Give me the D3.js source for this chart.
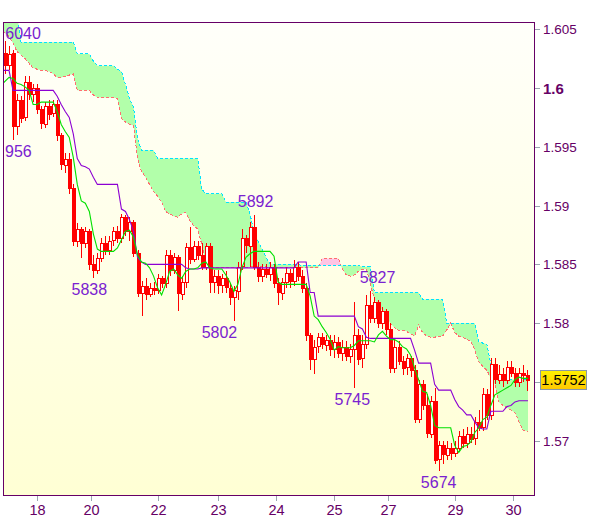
<!DOCTYPE html>
<html><head><meta charset="utf-8">
<script src="https://cdn.jsdelivr.net/npm/d3@7"></script>
<style>body{margin:0;background:#fff;}svg{display:block;font-family:"Liberation Sans",Arial,sans-serif;}</style>
</head><body><svg id="c" width="600" height="519"></svg>
<script>
// prices stored as last four digits: value = 1 + v/10000
const opens = [6030,6020,6030,5968,5990,5975,6005,5995,6000,5982,
5970,5985,5978,5986,5960,5935,5940,5915,5870,5880,
5868,5878,5850,5845,5855,5868,5862,5870,5878,5872,
5890,5878,5886,5860,5826,5832,5825,5830,5828,5838,
5834,5858,5845,5856,5825,5835,5865,5855,5866,5858,
5848,5866,5835,5840,5832,5838,5830,5822,5828,5848,
5872,5866,5882,5848,5840,5846,5842,5848,5834,5826,
5835,5843,5836,5848,5840,5830,5790,5770,5780,5788,
5782,5786,5778,5784,5775,5780,5772,5778,5790,5770,
5782,5815,5804,5818,5800,5810,5795,5762,5780,5768,
5762,5770,5760,5718,5748,5730,5706,5734,5684,5696,
5688,5694,5690,5694,5704,5698,5706,5702,5716,5712,
5740,5722,5765,5752,5757,5752,5763,5758,5750,5758,
5756];
const highs = [6040,6036,6032,5995,5993,6010,6010,6003,6003,5985,
5988,5990,5990,5990,5962,5945,5945,5918,5885,5882,
5882,5880,5858,5860,5872,5874,5874,5882,5883,5893,
5892,5890,5888,5862,5836,5838,5834,5835,5842,5840,
5862,5862,5860,5858,5840,5868,5882,5870,5870,5868,
5868,5868,5845,5845,5842,5844,5834,5832,5852,5880,
5875,5886,5892,5852,5850,5850,5852,5850,5838,5838,
5848,5846,5854,5852,5845,5834,5792,5786,5792,5792,
5790,5790,5790,5788,5786,5785,5782,5818,5795,5790,
5824,5827,5822,5820,5814,5812,5800,5786,5785,5772,
5774,5772,5764,5752,5752,5740,5738,5745,5700,5700,
5700,5698,5700,5708,5710,5712,5712,5720,5726,5745,
5744,5770,5770,5764,5762,5768,5768,5762,5762,5764,
5760];
const lows = [6012,6015,5956,5960,5970,5972,5990,5988,5978,5965,
5966,5973,5975,5955,5930,5928,5910,5866,5865,5855,
5864,5845,5838,5842,5852,5858,5858,5866,5868,5868,
5874,5870,5856,5822,5806,5820,5822,5824,5825,5830,
5830,5840,5842,5810,5820,5830,5850,5852,5854,5845,
5845,5826,5826,5825,5826,5826,5815,5802,5820,5845,
5860,5848,5845,5835,5835,5838,5836,5830,5815,5820,
5830,5830,5832,5836,5826,5785,5760,5757,5775,5778,
5776,5772,5770,5770,5768,5768,5766,5745,5764,5762,
5778,5800,5800,5796,5795,5790,5758,5758,5764,5756,
5756,5754,5715,5715,5726,5702,5702,5680,5674,5680,
5684,5684,5686,5690,5694,5694,5698,5696,5708,5708,
5718,5718,5748,5748,5746,5748,5754,5746,5746,5750,
5742];
const closes = [6020,6029,5968,5990,5975,6005,5995,6000,5982,5970,
5985,5978,5986,5960,5935,5940,5915,5870,5880,5868,
5878,5850,5845,5855,5868,5862,5870,5878,5872,5890,
5878,5886,5860,5826,5832,5825,5830,5828,5838,5834,
5858,5845,5856,5825,5835,5865,5855,5866,5858,5848,
5866,5835,5840,5832,5838,5830,5822,5828,5848,5872,
5866,5882,5848,5840,5846,5842,5848,5834,5826,5835,
5843,5836,5848,5840,5830,5790,5770,5780,5788,5782,
5786,5778,5784,5775,5780,5772,5778,5790,5770,5782,
5815,5804,5818,5800,5810,5795,5762,5780,5768,5762,
5770,5760,5718,5748,5730,5706,5734,5684,5696,5688,
5694,5690,5694,5704,5698,5706,5702,5716,5712,5740,
5722,5765,5752,5757,5752,5763,5758,5750,5758,5756,
5752];
const tenkan = [6004,6009,6008,6004,6003,6001,5998,5986,5986,5988,
5988,5988,5988,5980,5969,5963,5958,5941,5918,5904,
5902,5895,5876,5863,5861,5861,5861,5861,5864,5871,
5878,5879,5873,5858,5852,5851,5847,5840,5830,5824,
5833,5844,5846,5841,5838,5844,5846,5846,5847,5851,
5852,5847,5846,5846,5846,5841,5835,5827,5833,5847,
5856,5859,5861,5861,5861,5861,5861,5857,5835,5833,
5833,5833,5833,5833,5833,5833,5823,5806,5803,5797,
5792,5786,5777,5780,5779,5779,5779,5781,5785,5785,
5785,5785,5784,5790,5793,5789,5786,5786,5784,5780,
5778,5773,5762,5752,5742,5741,5730,5713,5711,5711,
5711,5711,5696,5690,5695,5696,5699,5707,5711,5718,
5720,5730,5739,5741,5743,5745,5747,5752,5754,5753,
5753];
const kijun = [6015,6015,5998,5998,5998,5998,5998,5998,5998,5998,
5998,5998,5998,5993,5986,5980,5975,5961,5940,5934,
5933,5931,5924,5918,5918,5918,5918,5918,5918,5897,
5895,5888,5878,5856,5852,5850,5850,5850,5850,5850,
5850,5850,5850,5850,5850,5847,5846,5846,5846,5847,
5847,5847,5847,5847,5847,5847,5847,5847,5847,5847,
5847,5847,5847,5847,5847,5847,5847,5847,5847,5847,
5847,5847,5847,5852,5852,5852,5826,5826,5806,5806,
5806,5806,5806,5806,5806,5806,5806,5806,5797,5795,
5788,5787,5787,5787,5787,5787,5787,5787,5787,5787,
5787,5787,5777,5766,5766,5766,5766,5748,5743,5743,
5743,5743,5735,5729,5726,5722,5722,5716,5711,5710,
5710,5725,5725,5725,5725,5729,5730,5733,5734,5734,
5734];
const spanA = [6063,6063,6063,6063,6039,6039,6039,6039,6039,6039,
6039,6039,6039,6039,6039,6039,6039,6039,6029,6029,
6029,6029,6023,6019,6019,6019,6019,6019,6016,6014,
6003,5991,5984,5957,5947,5947,5947,5947,5940,5940,
5940,5940,5940,5940,5940,5940,5940,5940,5940,5914,
5910,5910,5910,5910,5910,5903,5903,5903,5903,5903,
5903,5893,5878,5870,5863,5856,5850,5850,5850,5850,
5850,5850,5850,5850,5849,5849,5849,5849,5849,5849,
5849,5849,5849,5849,5849,5849,5849,5849,5849,5848,
5848,5848,5826,5826,5826,5826,5826,5826,5826,5826,
5826,5826,5826,5826,5820,5820,5820,5820,5820,5820,
5800,5800,5800,5800,5800,5800,5800,5800,5784,5783,
5782,5765,5754,5752,5752,5752,5752,5752,5752,5752,
5752];
const spanB = [6048,6044,6038,6031,6028,6025,6021,6017,6016,6015,
6015,6014,6012,6009,6009,6010,6011,6012,5998,5998,
5998,5998,5994,5992,5992,5992,5992,5992,5991,5974,
5971,5969,5968,5940,5929,5924,5918,5912,5908,5903,
5895,5893,5891,5890,5893,5894,5887,5883,5880,5867,
5852,5847,5847,5847,5847,5847,5847,5847,5846,5846,
5847,5848,5848,5848,5848,5848,5847,5847,5847,5847,
5847,5847,5847,5847,5847,5847,5847,5847,5847,5855,
5855,5855,5855,5855,5846,5841,5840,5841,5844,5846,
5846,5833,5820,5816,5810,5805,5800,5796,5794,5794,
5793,5791,5789,5798,5792,5789,5788,5788,5789,5789,
5794,5800,5792,5789,5788,5786,5785,5777,5767,5763,
5760,5753,5748,5733,5730,5728,5726,5724,5716,5709,
5708];
// day ticks (bar positions) and labels
const dayTickPos = [8, 21.5, 38, 53, 67.5, 82, 95.5, 112, 126.5];
const dayTickLabels = ["18","20","22","23","24","25","27","29","30"];
const priceTicks = [1.57, 1.575, 1.58, 1.585, 1.59, 1.595, 1.6, 1.605];
// extreme labels (as shown on the chart)
const extremeText = ["6040","956","5838","5802","5892","5827","5745","5674"];
const extremeVal  = [6040, 5956, 5838, 5802, 5892, 5827, 5745, 5674];
const extremePos  = [4.5, 3.2, 21, 53.4, 62.4, 92.8, 86.5, 108];
const extremeKind = ["high","low","low","low","high","high","low","low"];
const lastPriceLabel = "1.5752";

const svg = d3.select("#c");
const L = 3, R = 535, T = 22, B = 496;
const N = closes.length;
const x = d3.scaleLinear().domain([-0.5, N - 0.5]).range([L, R - 6]);
const y = d3.scaleLinear().domain([1.57, 1.6]).range([440.7, 88]);
const yv = v => y(1 + v / 10000);

const defs = svg.append("defs");
const grad = defs.append("linearGradient").attr("id", "bg").attr("x1", 0).attr("y1", 0).attr("x2", 0).attr("y2", 1);
grad.append("stop").attr("offset", "0%").attr("stop-color", "#fffffa");
grad.append("stop").attr("offset", "100%").attr("stop-color", "#ffffd4");
const g2 = defs.append("linearGradient").attr("id", "box").attr("x1", 0).attr("y1", 0).attr("x2", 0).attr("y2", 1);
g2.append("stop").attr("offset", "0%").attr("stop-color", "#fff200");
g2.append("stop").attr("offset", "100%").attr("stop-color", "#ffc800");
defs.append("clipPath").attr("id", "plot").append("rect").attr("x", L).attr("y", T).attr("width", R - L).attr("height", B - T);

const idx = d3.range(N);
const xx = i => i === 0 ? L : (i === N - 1 ? x(i) + 1 : x(i));
defs.append("clipPath").attr("id", "belowA").append("path")
  .attr("d", d3.area().x(xx).y0(B + 50).y1(i => yv(spanA[i]))(idx));
defs.append("clipPath").attr("id", "aboveA").append("path")
  .attr("d", d3.area().x(xx).y0(T - 50).y1(i => yv(spanA[i]))(idx));

svg.append("rect").attr("x", L).attr("y", T).attr("width", R - L).attr("height", B - T).attr("fill", "url(#bg)");

const plot = svg.append("g").attr("clip-path", "url(#plot)");
const cloud = plot.append("g");
cloud.append("path").attr("clip-path", "url(#belowA)")
  .attr("d", d3.area().x(xx).y0(T - 50).y1(i => yv(spanB[i]))(idx)).attr("fill", "#b2ffaa");
cloud.append("path").attr("clip-path", "url(#aboveA)")
  .attr("d", d3.area().x(xx).y0(B + 50).y1(i => yv(spanB[i]))(idx)).attr("fill", "#ffc4e4");
plot.append("path").attr("d", d3.line().x(xx).y(i => yv(spanB[i]))(idx))
  .attr("fill", "none").attr("stroke", "#ff6e6e").attr("stroke-width", 1).attr("stroke-dasharray", "3,2")
  .attr("shape-rendering", "crispEdges");
plot.append("path").attr("d", d3.line().x(xx).y(i => yv(spanA[i]))(idx))
  .attr("fill", "none").attr("stroke", "#00e4ff").attr("stroke-width", 1).attr("stroke-dasharray", "3,2")
  .attr("shape-rendering", "crispEdges");

// candles
const cg = plot.append("g").attr("shape-rendering", "crispEdges");
idx.forEach(i => {
  const cx = Math.round(x(i)) + 0.5;
  cg.append("line").attr("x1", cx).attr("x2", cx).attr("y1", yv(highs[i])).attr("y2", yv(lows[i]))
    .attr("stroke", "#ff0000").attr("stroke-width", 1);
  const top = yv(Math.max(opens[i], closes[i])), bot = yv(Math.min(opens[i], closes[i]));
  cg.append("rect").attr("x", cx - 1.5).attr("width", 3).attr("y", Math.round(top) + 0.5).attr("height", Math.max(1, Math.round(bot - top)))
    .attr("fill", closes[i] < opens[i] ? "#ff0000" : "#ffffff").attr("stroke", "#ff0000").attr("stroke-width", 1);
});

plot.append("path").attr("d", d3.line().x(xx).y(i => yv(kijun[i]))(idx))
  .attr("fill", "none").attr("stroke", "#8c00d2").attr("stroke-width", 1.1);
plot.append("path").attr("d", d3.line().x(xx).y(i => yv(tenkan[i]))(idx))
  .attr("fill", "none").attr("stroke", "#00e000").attr("stroke-width", 1.1);

// extreme labels
extremeText.forEach((t, k) => {
  const v = extremeVal[k];
  const yy = extremeKind[k] === "high" ? Math.max(yv(v) - 8, T + 17) : yv(v) + 17;
  const el = plot.append("text").attr("y", yy).attr("font-size", 16).attr("fill", "#7a22d0").text(t);
  const cxp = x(extremePos[k]);
  el.attr("x", cxp).attr("text-anchor", "middle");
  const bb = el.node().getBBox();
  if (bb.x < L + 2) el.attr("x", L + 2).attr("text-anchor", "start");
});

// frame
svg.append("rect").attr("x", L + 0.5).attr("y", T + 0.5).attr("width", R - L - 1).attr("height", B - T - 1)
  .attr("fill", "none").attr("stroke", "#660066").attr("stroke-width", 1);

// y axis (1.575 label sits under the last-price box)
const ya = svg.append("g");
const ly = yv(closes[N - 1]);
priceTicks.forEach(p => {
  const yy = Math.round(y(p)) + 0.5;
  ya.append("line").attr("x1", R).attr("x2", R + 5).attr("y1", yy).attr("y2", yy).attr("stroke", "#9aa4b0");
  if (Math.abs(y(p) - ly) < 14) return;
  const bold = Math.abs(p - 1.6) < 1e-9;
  ya.append("text").attr("x", R + 8).attr("y", yy).attr("dy", "0.36em")
    .attr("font-size", bold ? 15 : 13.5).attr("font-weight", bold ? "bold" : "normal")
    .attr("fill", "#660066").text(d3.format("")(+p.toFixed(3)));
});
// x axis
dayTickPos.forEach((p, k) => {
  const xx2 = Math.round(x(p)) + 0.5;
  svg.append("line").attr("x1", xx2).attr("x2", xx2).attr("y1", B).attr("y2", B + 5).attr("stroke", "#9aa4b0");
  svg.append("text").attr("x", xx2).attr("y", B + 19).attr("text-anchor", "middle")
    .attr("font-size", 14.5).attr("fill", "#660066").text(dayTickLabels[k]);
});
// last price box
svg.append("rect").attr("x", 540.5).attr("y", Math.round(ly - 9.5) + 0.5).attr("width", 46).attr("height", 19)
  .attr("fill", "url(#box)").attr("stroke", "#8898a8");
svg.append("text").attr("x", 563.5).attr("y", ly).attr("dy", "0.36em").attr("text-anchor", "middle")
  .attr("font-size", 14.5).attr("fill", "#000").text(lastPriceLabel);
</script></body></html>
